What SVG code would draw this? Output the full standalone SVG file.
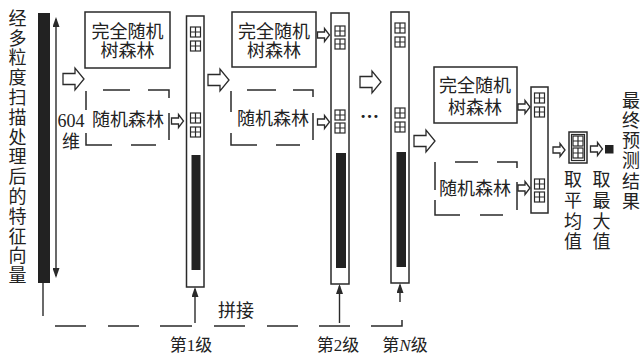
<svg xmlns="http://www.w3.org/2000/svg" xmlns:xlink="http://www.w3.org/1999/xlink" width="640" height="359" viewBox="0 0 640 359">
<style>
.t{font-family:"Liberation Serif","Noto Sans CJK SC",serif;font-size:18px;fill:#222}
.s{font-size:17px}
.box{fill:#fff;stroke:#2a2a2a;stroke-width:1.5}
.dash{fill:none;stroke:#2a2a2a;stroke-width:1.5}
.ln{fill:none;stroke:#2a2a2a;stroke-width:1.4}
.ha{fill:#fff;stroke:#2a2a2a;stroke-width:1.3;stroke-linejoin:miter}
.bar{fill:#222}
.grid{fill:none;stroke:#2a2a2a;stroke-width:1.2}
</style>
<defs>
<marker id="ah" markerUnits="userSpaceOnUse" markerWidth="10" markerHeight="7" viewBox="0 0 10 7" refX="8" refY="3.5" orient="auto-start-reverse">
<path d="M0,0 L10,3.5 L0,7 Z" fill="#2a2a2a"/>
</marker>
<g id="gi" class="grid"><rect x="0" y="0" width="10" height="10"/><path d="M5,0V10M0,5H10"/></g>
<path id="sa" class="ha" d="M0,-3 H7 V-6.5 L12,0 L7,6.5 V3 H0 Z"/>
<path id="ba" class="ha" d="M0,-5.5 H12 V-11 L21,0 L12,11 V5.5 H0 Z"/>
</defs>
<rect width="640" height="359" fill="#fff"/>

<g id="input">
<text class="t" text-anchor="middle"><tspan x="17.5" y="24.7">经</tspan><tspan x="17.5" dy="19.8">多</tspan><tspan x="17.5" dy="19.8">粒</tspan><tspan x="17.5" dy="19.8">度</tspan><tspan x="17.5" dy="19.8">扫</tspan><tspan x="17.5" dy="19.8">描</tspan><tspan x="17.5" dy="19.8">处</tspan><tspan x="17.5" dy="19.8">理</tspan><tspan x="17.5" dy="19.8">后</tspan><tspan x="17.5" dy="19.8">的</tspan><tspan x="17.5" dy="19.8">特</tspan><tspan x="17.5" dy="19.8">征</tspan><tspan x="17.5" dy="19.8">向</tspan><tspan x="17.5" dy="19.8">量</tspan></text>
<rect class="bar" x="38" y="13" width="12" height="270"/>
<text class="t" text-anchor="middle" x="71" y="127">604</text>
<text class="t" text-anchor="middle" x="71" y="148">维</text>
</g>

<g id="crf1">
<rect class="box" x="85" y="12" width="85" height="56"/>
<text class="t" text-anchor="middle" x="127.5" y="38">完全随机</text>
<text class="t" text-anchor="middle" x="127.5" y="57">树森林</text>
</g>
<g id="rf1">
<path class="dash" d="M86,91V110M86,133V145H112M131,145H156M103,90H130M148,90H169V98M169,113V140"/>
<text class="t" text-anchor="middle" x="128" y="126">随机森林</text>
</g>
<g id="level1">
<rect class="box" x="186.5" y="16" width="17.5" height="271"/>
<use xlink:href="#gi" x="190.5" y="27"/><use xlink:href="#gi" x="190.5" y="41"/>
<use xlink:href="#gi" x="190.5" y="113"/><use xlink:href="#gi" x="190.5" y="127"/>
<rect class="bar" x="191.5" y="155" width="9" height="115"/>
<text class="t s" text-anchor="middle" x="191" y="351">第1级</text>
</g>

<g id="crf2">
<rect class="box" x="232" y="12" width="84" height="55"/>
<text class="t" text-anchor="middle" x="274" y="38">完全随机</text>
<text class="t" text-anchor="middle" x="274" y="57">树森林</text>
</g>
<g id="rf2">
<path class="dash" d="M231,91V112M231,133V145H257M276,145H300M247,90H276M293,90H313V97M313,113V140"/>
<text class="t" text-anchor="middle" x="273" y="125">随机森林</text>
</g>
<g id="level2">
<rect class="box" x="331" y="13" width="18" height="271"/>
<use xlink:href="#gi" x="335" y="26"/><use xlink:href="#gi" x="335" y="39"/>
<use xlink:href="#gi" x="335" y="110"/><use xlink:href="#gi" x="335" y="123"/>
<rect class="bar" x="336" y="153" width="10" height="115"/>
<text class="t s" text-anchor="middle" x="338" y="351">第2级</text>
</g>

<g id="ellipsis">
<text class="t" text-anchor="middle" x="369.5" y="118" style="font-size:19px;font-weight:bold">…</text>
</g>

<g id="levelN">
<rect class="box" x="391" y="12" width="18" height="271"/>
<use xlink:href="#gi" x="395" y="23"/><use xlink:href="#gi" x="395" y="37"/>
<use xlink:href="#gi" x="395" y="108"/><use xlink:href="#gi" x="395" y="122"/>
<rect class="bar" x="396.5" y="152" width="9.5" height="115"/>
<text class="t s" text-anchor="middle" x="405" y="351">第<tspan font-style="italic">N</tspan>级</text>
</g>

<g id="crf3">
<rect class="box" x="434" y="67" width="83" height="56"/>
<text class="t" text-anchor="middle" x="475" y="92">完全随机</text>
<text class="t" text-anchor="middle" x="475" y="114">树森林</text>
</g>
<g id="rf3">
<path class="dash" d="M435,162V190M435,200V215H460M480,215H503M455,162H478M497,162H517V168M517,182V210"/>
<text class="t" text-anchor="middle" x="475" y="195">随机森林</text>
</g>
<g id="final">
<rect class="box" x="531" y="87" width="17" height="126"/>
<use xlink:href="#gi" x="534.5" y="93"/><use xlink:href="#gi" x="534.5" y="107"/>
<use xlink:href="#gi" x="534.5" y="179"/><use xlink:href="#gi" x="534.5" y="192"/>
</g>
<g id="average">
<rect class="box" x="569" y="132" width="18" height="31"/>
<rect class="grid" x="571.5" y="134.5" width="13" height="26"/>
<use xlink:href="#gi" x="573" y="136"/><use xlink:href="#gi" x="573" y="148"/>
<text class="t" text-anchor="middle"><tspan x="573" y="186">取</tspan><tspan x="573" dy="20.8">平</tspan><tspan x="573" dy="20.8">均</tspan><tspan x="573" dy="20.8">值</tspan></text>
</g>
<g id="maximum">
<rect class="bar" x="605" y="145" width="8.5" height="8.5"/>
<text class="t" text-anchor="middle"><tspan x="601.5" y="186">取</tspan><tspan x="601.5" dy="20.8">最</tspan><tspan x="601.5" dy="20.8">大</tspan><tspan x="601.5" dy="20.8">值</tspan></text>
</g>
<g id="result">
<text class="t" text-anchor="middle"><tspan x="631" y="106.8">最</tspan><tspan x="631" dy="20.2">终</tspan><tspan x="631" dy="20.2">预</tspan><tspan x="631" dy="20.2">测</tspan><tspan x="631" dy="20.2">结</tspan><tspan x="631" dy="20.2">果</tspan></text>
</g>

<g id="connectors">
<line class="ln" x1="56" y1="19" x2="56" y2="276" marker-start="url(#ah)" marker-end="url(#ah)"/>
<path class="ln" d="M43,283V316"/>
<path class="dash" d="M55,326H86M108,326H139M160,326H192M214,326H245M267,326H298M319,326H350M371,326H402V320"/>
<line class="ln" x1="195" y1="323" x2="195" y2="289" marker-end="url(#ah)"/>
<line class="ln" x1="339.5" y1="323" x2="339.5" y2="286" marker-end="url(#ah)"/>
<line class="ln" x1="400" y1="302" x2="400" y2="285" marker-end="url(#ah)"/>
<text class="t" text-anchor="middle" x="236" y="317">拼接</text>
<use xlink:href="#ba" x="63" y="79"/>
<use xlink:href="#ba" x="208" y="80"/>
<use xlink:href="#ba" x="360" y="82"/>
<use xlink:href="#ba" x="414" y="141"/>
<use xlink:href="#sa" x="171.5" y="121"/>
<use xlink:href="#sa" x="317.5" y="35"/>
<use xlink:href="#sa" x="317.5" y="122"/>
<use xlink:href="#sa" x="518" y="107"/>
<use xlink:href="#sa" x="518" y="188"/>
<use xlink:href="#sa" x="553" y="150"/>
<use xlink:href="#sa" x="590.5" y="149"/>
</g>
</svg>
